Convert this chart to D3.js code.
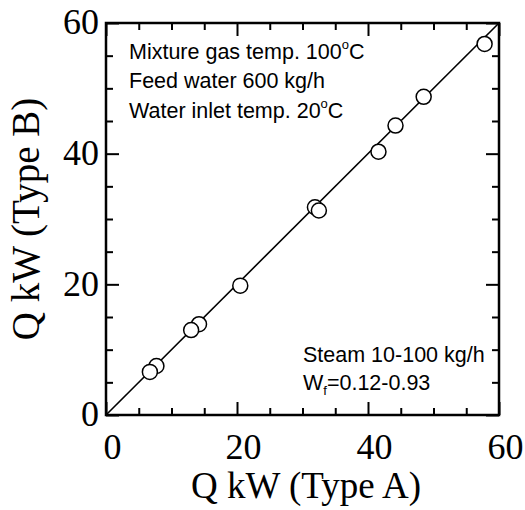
<!DOCTYPE html>
<html>
<head>
<meta charset="utf-8">
<script src="https://cdn.jsdelivr.net/npm/d3@7"></script>
<style>
  html, body { margin: 0; padding: 0; background: #fff; }
  svg { display: block; }
</style>
</head>
<body>
<svg id="chart" width="525" height="510"></svg>
<script>
// ---- data ----
const typeA = [57.8, 48.5, 44.2, 41.6, 31.9, 32.5, 20.5, 14.2, 13.0, 7.7, 6.7];
const typeB = [56.8, 48.7, 44.3, 40.3, 31.8, 31.3, 19.8, 13.9, 13.0, 7.5, 6.6];
const majorTicks = [0, 20, 40, 60];
const minorTicks = [5, 10, 15, 25, 30, 35, 45, 50, 55];
const diagLine = [0, 60];
const xTitle = "Q kW (Type A)";
const yTitle = "Q kW (Type B)";
const notesTop = [["Mixture gas temp. 100", "o", "C"], ["Feed water 600 kg/h", "", ""], ["Water inlet temp. 20", "o", "C"]];

// ---- layout ----
const svg = d3.select("#chart");
const L = 106, T = 23, W = 393, H = 392;
const x = d3.scaleLinear().domain([0, 60]).range([L, L + W]);
const y = d3.scaleLinear().domain([0, 60]).range([T + H, T]);
const serif = "'Liberation Serif', 'Times New Roman', serif";
const sans = "'Liberation Sans', Arial, sans-serif";

function styleAxis(g) {
  g.select(".domain").remove();
  g.selectAll(".tick line").attr("stroke", "#000").attr("stroke-width", 2);
}

// minor ticks
[[d3.axisBottom(x), `translate(0,${T + H})`], [d3.axisTop(x), `translate(0,${T})`],
 [d3.axisLeft(y), `translate(${L},0)`], [d3.axisRight(y), `translate(${L + W},0)`]].forEach(([ax, tr]) => {
  svg.append("g").attr("transform", tr)
    .call(ax.tickValues(minorTicks).tickSize(-7).tickFormat(""))
    .call(styleAxis);
});
// major ticks (unlabeled sides)
svg.append("g").attr("transform", `translate(0,${T})`)
  .call(d3.axisTop(x).tickValues(majorTicks).tickSize(-13).tickFormat(""))
  .call(styleAxis);
svg.append("g").attr("transform", `translate(${L + W},0)`)
  .call(d3.axisRight(y).tickValues(majorTicks).tickSize(-13).tickFormat(""))
  .call(styleAxis);
// labeled bottom
const gx = svg.append("g").attr("transform", `translate(0,${T + H})`)
  .call(d3.axisBottom(x).tickValues(majorTicks).tickSize(-13).tickFormat(d3.format("d")))
  .call(styleAxis);
gx.selectAll(".tick text").attr("y", 44).attr("dy", 0).attr("x", 6)
  .attr("font-family", serif).attr("font-size", 36).attr("fill", "#000");
// labeled left
const gy = svg.append("g").attr("transform", `translate(${L},0)`)
  .call(d3.axisLeft(y).tickValues(majorTicks).tickSize(-13).tickFormat(d3.format("d")))
  .call(styleAxis);
gy.selectAll(".tick text").attr("x", -7).attr("dy", "0.3em")
  .attr("font-family", serif).attr("font-size", 36).attr("fill", "#000");

// diagonal y = x
svg.append("line")
  .attr("x1", x(diagLine[0])).attr("y1", y(diagLine[0]))
  .attr("x2", x(diagLine[1])).attr("y2", y(diagLine[1]))
  .attr("stroke", "#000").attr("stroke-width", 1.6);

// frame
svg.append("rect").attr("x", L).attr("y", T).attr("width", W).attr("height", H)
  .attr("fill", "none").attr("stroke", "#000").attr("stroke-width", 2.5);

// points
svg.append("g").selectAll("circle").data(typeA.map((a, i) => [a, typeB[i]]))
  .join("circle")
  .attr("cx", d => x(d[0])).attr("cy", d => y(d[1])).attr("r", 7.5)
  .attr("fill", "#fff").attr("stroke", "#000").attr("stroke-width", 1.5);

// annotations top-left
const baseY = [59, 88, 118];
notesTop.forEach((n, i) => {
  const t = svg.append("text").attr("x", 129).attr("y", baseY[i])
    .attr("font-family", sans).attr("font-size", 21.5).attr("fill", "#000");
  t.append("tspan").text(n[0]);
  if (n[1]) {
    t.append("tspan").attr("font-size", 13).attr("dy", -10).text(n[1]);
    t.append("tspan").attr("dy", 10).text(n[2]);
  }
});
// annotations bottom-right
svg.append("text").attr("x", 303).attr("y", 362)
  .attr("font-family", sans).attr("font-size", 21.5).attr("fill", "#000")
  .text("Steam 10-100 kg/h");
const wf = svg.append("text").attr("x", 303).attr("y", 390)
  .attr("font-family", sans).attr("font-size", 21.5).attr("fill", "#000");
wf.append("tspan").text("W");
wf.append("tspan").attr("font-size", 13).attr("dy", 5).text("f");
wf.append("tspan").attr("dy", -5).text("=0.12-0.93");

// axis titles
svg.append("text").attr("x", 306).attr("y", 498).attr("text-anchor", "middle")
  .attr("font-family", serif).attr("font-size", 37).attr("fill", "#000").text(xTitle);
svg.append("text").attr("transform", `translate(39,${T + H / 2}) rotate(-90)`)
  .attr("text-anchor", "middle")
  .attr("font-family", serif).attr("font-size", 39).attr("fill", "#000").text(yTitle);
</script>
</body>
</html>
